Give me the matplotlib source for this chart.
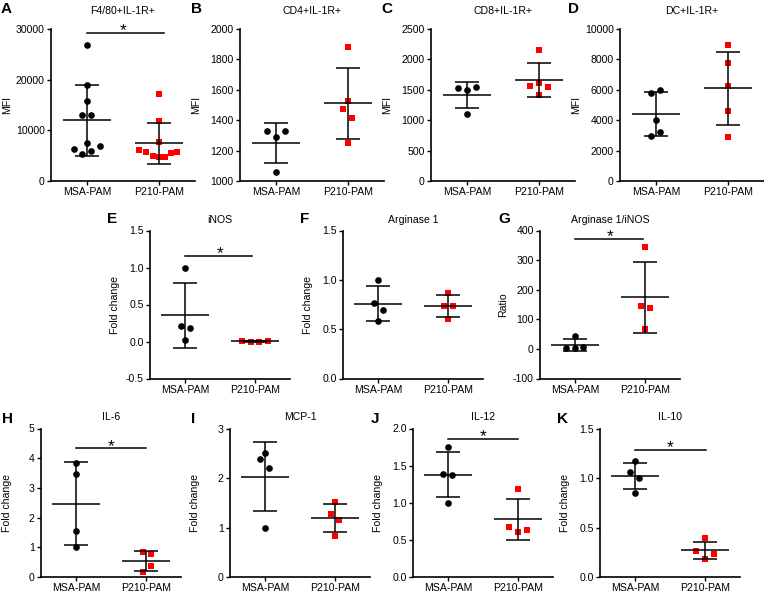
import numpy as np
import matplotlib.pyplot as plt

plt.rcParams['font.family'] = ['Liberation Sans', 'DejaVu Sans']

groups = ['MSA-PAM', 'P210-PAM']

# A  F4/80+IL-1R+
a_msa = [26900, 18900, 15700, 13000, 13000, 7500, 6400, 6900, 5400, 5900]
a_msa_dx = [0, 0, 0, -0.07, 0.06, 0, -0.185, 0.185, -0.07, 0.06]
a_p210 = [17200, 11800, 7700, 6100, 5700, 5000, 4700, 4700, 5600, 5800]
a_p210_dx = [0, 0, 0, -0.28, -0.185, -0.09, 0, 0.09, 0.17, 0.255]

# B  CD4+IL-1R+
b_msa = [1331, 1331, 1287, 1057]
b_msa_dx = [-0.125, 0.125, 0, 0]
b_p210 = [1884, 1528, 1474, 1417, 1252]
b_p210_dx = [0, 0, -0.075, 0.056, 0]

# C  CD8+IL-1R+
c_msa = [1532, 1493, 1554, 1094]
c_msa_dx = [-0.125, 0, 0.13, 0]
c_p210 = [2150, 1614, 1565, 1543, 1422]
c_p210_dx = [0, 0, -0.13, 0.125, 0]

# D  DC+IL-1R+
d_msa = [6017, 5801, 4026, 3203, 2944]
d_msa_dx = [0.056, -0.07, 0, 0.056, -0.07]
d_p210 = [8939, 7749, 6277, 4589, 2879]
d_p210_dx = [0, 0, 0, 0, 0]

# E  iNOS
e_msa = [1.0, 0.206, 0.188, 0.017]
e_msa_dx = [0, -0.057, 0.071, 0]
e_p210 = [0.005, 0.0, 0.0, 0.01]
e_p210_dx = [-0.19, -0.064, 0.064, 0.19]

# F  Arginase 1
f_msa = [1.0, 0.77, 0.69, 0.58]
f_msa_dx = [0, -0.06, 0.065, 0]
f_p210 = [0.87, 0.73, 0.73, 0.60]
f_p210_dx = [0, -0.06, 0.065, 0]

# G  Arginase 1/iNOS
g_msa = [42, 3, 2, 5]
g_msa_dx = [0, -0.13, 0, 0.12]
g_p210 = [344, 146, 139, 67]
g_p210_dx = [0, -0.06, 0.07, 0]

# H  IL-6
h_msa = [3.84, 3.48, 1.55, 1.01]
h_msa_dx = [0, 0, 0, 0]
h_p210 = [0.84, 0.79, 0.37, 0.17]
h_p210_dx = [-0.05, 0.07, 0.07, -0.05]

# I  MCP-1
i_msa = [2.51, 2.39, 2.21, 1.0]
i_msa_dx = [0, -0.07, 0.06, 0]
i_p210 = [1.51, 1.28, 1.15, 0.82]
i_p210_dx = [0, -0.06, 0.06, 0]

# J  IL-12
j_msa = [1.75, 1.39, 1.375, 1.0]
j_msa_dx = [0, -0.07, 0.06, 0]
j_p210 = [1.19, 0.68, 0.61, 0.63]
j_p210_dx = [0, -0.13, 0, 0.13]

# K  IL-10
k_msa = [1.172, 1.064, 0.997, 0.848]
k_msa_dx = [0, -0.07, 0.06, 0]
k_p210 = [0.389, 0.267, 0.23, 0.186]
k_p210_dx = [0, -0.13, 0.13, 0]

letters = list('ABCDEFGHIJK')
titles = ['F4/80+IL-1R+', 'CD4+IL-1R+', 'CD8+IL-1R+', 'DC+IL-1R+',
          'iNOS', 'Arginase 1', 'Arginase 1/iNOS',
          'IL-6', 'MCP-1', 'IL-12', 'IL-10']
ylabels = ['MFI'] * 4 + ['Fold change', 'Fold change', 'Ratio'] + ['Fold change'] * 4
yticks = [
    [0, 10000, 20000, 30000],
    [1000, 1200, 1400, 1600, 1800, 2000],
    [0, 500, 1000, 1500, 2000, 2500],
    [0, 2000, 4000, 6000, 8000, 10000],
    [-0.5, 0.0, 0.5, 1.0, 1.5],
    [0.0, 0.5, 1.0, 1.5],
    [-100, 0, 100, 200, 300, 400],
    [0, 1, 2, 3, 4, 5],
    [0, 1, 2, 3],
    [0.0, 0.5, 1.0, 1.5, 2.0],
    [0.0, 0.5, 1.0, 1.5],
]
tick_fmt = ['%d'] * 4 + ['%.1f', '%.1f', '%d', '%d', '%d', '%.1f', '%.1f']
# significance bars: panel letter -> (height, right end)
sig = {'A': (29300, 1.07), 'E': (1.16, 0.95), 'G': (372, 0.97),
       'H': (4.33, 1.0), 'J': (1.865, 1.0), 'K': (1.28, 1.01)}

msa_sets = [a_msa, b_msa, c_msa, d_msa, e_msa, f_msa, g_msa, h_msa, i_msa, j_msa, k_msa]
msa_dxs = [a_msa_dx, b_msa_dx, c_msa_dx, d_msa_dx, e_msa_dx, f_msa_dx, g_msa_dx,
           h_msa_dx, i_msa_dx, j_msa_dx, k_msa_dx]
p210_sets = [a_p210, b_p210, c_p210, d_p210, e_p210, f_p210, g_p210, h_p210,
             i_p210, j_p210, k_p210]
p210_dxs = [a_p210_dx, b_p210_dx, c_p210_dx, d_p210_dx, e_p210_dx, f_p210_dx,
            g_p210_dx, h_p210_dx, i_p210_dx, j_p210_dx, k_p210_dx]

# layout in pixels: (left, top, width, height)
W, H = 764, 592
rects = [(51, 29, 144, 152), (240, 29, 144, 152), (431, 29, 144, 152), (620, 29, 144, 152),
         (150, 230.5, 140, 148), (343, 230.5, 140, 148), (540, 230.5, 140, 148),
         (41, 428.5, 140, 148.5), (230, 428.5, 140, 148.5), (413, 428.5, 140, 148.5),
         (600, 428.5, 140, 148.5)]
letter_pos = [(1, 2), (191, 2), (381, 2), (568, 2),
              (107, 212), (300, 212), (498, 212),
              (2, 412), (191, 412), (371, 412), (557, 412)]
title_pad = [10.5] * 4 + [5.5] * 3 + [6] * 4
label_dx = [39] * 4 + [30, 30, 32, 29, 30, 30, 30]

fig = plt.figure(figsize=(W / 100, H / 100), dpi=100)

for n in range(11):
    l, t, w, h = rects[n]
    ax = fig.add_axes([l / W, 1 - (t + h) / H, w / W, h / H])

    for gi, (vals, dx, mk, col, ms) in enumerate([
            (msa_sets[n], msa_dxs[n], 'o', 'black', 4.8),
            (p210_sets[n], p210_dxs[n], 's', '#ff0000', 4.4)]):
        vals = np.array(vals, dtype=float)
        ax.plot(gi + np.array(dx), vals, mk, color=col, ms=ms, mew=0,
                zorder=2, clip_on=False)
        m, sd = vals.mean(), vals.std(ddof=1)
        ax.hlines(m, gi - 0.34, gi + 0.34, color='black', lw=1.1, zorder=3)
        ax.vlines(gi, m - sd, m + sd, color='black', lw=1.1, zorder=3)
        ax.hlines([m - sd, m + sd], gi - 0.17, gi + 0.17, color='black', lw=1.1, zorder=3)

    letter = letters[n]
    if letter in sig:
        sy, xe = sig[letter]
        ax.plot([0, xe], [sy, sy], color='black', lw=1.1, clip_on=False)
        ax.annotate('*', xy=(0.5, sy), xytext=(0, -3.8), textcoords='offset points',
                    ha='center', va='bottom', fontsize=12.5, annotation_clip=False)

    ax.set_xlim(-0.5, 1.5)
    ax.set_ylim(yticks[n][0], yticks[n][-1])
    ax.set_xticks([0, 1])
    ax.set_xticklabels(groups)
    ax.set_yticks(yticks[n])
    ax.set_yticklabels([tick_fmt[n] % v for v in yticks[n]])
    ax.tick_params(labelsize=7.6, length=3, width=1, pad=1.5, colors='black')
    for s in ['top', 'right']:
        ax.spines[s].set_visible(False)
    for s in ['left', 'bottom']:
        ax.spines[s].set_linewidth(1.2)
    ax.set_title(titles[n], fontsize=7.6, pad=title_pad[n])
    ax.set_ylabel(ylabels[n], fontsize=7.6)
    ax.yaxis.set_label_coords(-label_dx[n] / w, 0.5)

    lx, ly = letter_pos[n]
    fig.text(lx / W, 1 - ly / H, letter, fontsize=11, fontweight='bold',
             ha='left', va='top')

fig.savefig('out.png', dpi=100)
